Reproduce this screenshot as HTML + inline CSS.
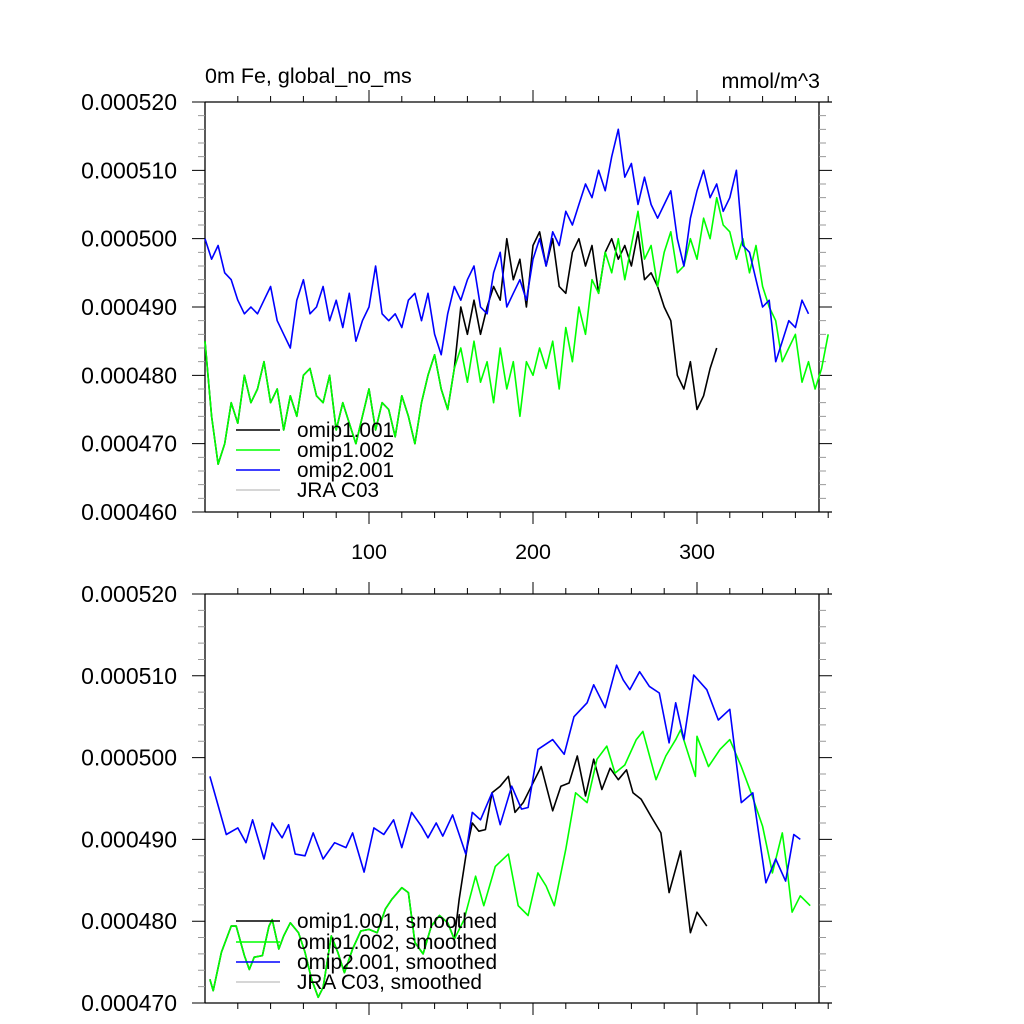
<!DOCTYPE html>
<html><head><meta charset="utf-8"><style>
html,body{margin:0;padding:0;background:#fff;}
svg{display:block;font-family:"Liberation Sans",sans-serif;}
</style></head><body>
<svg id="c" width="1024" height="1024" viewBox="0 0 1024 1024"></svg>
<script>
// ---- data (values in 1e-6 mmol/m^3) ----
const topStep = 4;
const topBlue = [500,497,499,495,494,491,489,490,489,491,493,488,486,484,491,494,489,490,493,488,491,487,492,485,488,490,496,489,488,489,487,491,492,488,492,486,483,489,493,491,494,496,490,489,495,498,490,492,494,491,497,500,496,501,499,504,502,505,508,506,510,507,512,516,509,511,505,509,505,503,505,507,500,496,503,507,510,506,508,504,506,510,499,498,494,490,491,482,485,488,487,491,489];
const topGreen = [485,474,467,470,476,473,480,476,478,482,476,478,472,477,474,480,481,477,476,480,472,476,473,470,474,478,472,476,475,471,477,474,470,476,480,483,478,475,481,484,479,485,479,482,476,484,478,482,474,482,480,484,481,485,478,487,482,490,486,494,492,498,495,500,494,499,504,497,499,493,498,501,495,496,500,497,503,500,506,502,501,497,500,495,499,493,490,488,482,484,486,479,482,478,481,486];
const topBlack = [485,474,467,470,476,473,480,476,478,482,476,478,472,477,474,480,481,477,476,480,472,476,473,470,474,478,472,476,475,471,477,474,470,476,480,483,478,475,481,490,486,491,486,490,493,491,500,494,497,490,499,501,496,500,493,492,498,500,496,499,492,498,500,497,499,496,501,494,495,493,490,488,480,478,482,475,477,481,484];
const botBlueX = [3,13,20,25,29,36,41,47,51,55,61,66,72,79,86,90,97,103,109,115,120,126,132,136,141,145,151,159,163,168,175,180,187,193,197,203,212,219,225,233,237,244,251,255,259,265,271,277,283,287,292,298,306,313,320,327,334,342,348,354,359,363];
const botBlue = [497.7,490.6,491.4,489.6,492.4,487.6,492,490.2,491.8,488.2,488,490.8,487.6,489.6,489,490.8,486,491.4,490.6,492.4,489,493.3,491.6,490.2,492,490.4,493,488.2,493.3,492.4,495.7,491.8,496.5,493.7,493.9,501,502.2,500.4,505,506.7,508.9,506.1,511.3,509.5,508.3,510.5,508.7,507.9,501.8,506.7,502.2,510.1,508.3,504.6,505.9,494.5,495.7,484.7,487.6,484.9,490.6,490];
const botGreenX = [3,5,10,16,19,24,27,30,35,39,41,45,48,52,57,61,65,69,72,77,81,85,90,95,100,105,110,114,120,124,128,133,138,143,148,152,158,165,170,177,185,191,197,203,208,213,220,226,233,239,245,250,256,263,267,275,281,287,290,299,300,307,314,320,327,333,340,346,352,355,358,363,369];
const botGreen = [472.9,471.5,476.2,479.4,479.4,475.8,474.1,475.6,475.8,479.4,480.2,476.6,478.2,479.8,478.6,476.2,472.9,470.7,471.9,478.2,476.2,473.7,476.6,478.8,479,478.6,481.5,482.7,484.1,483.5,477.4,476,479.4,480.7,479.8,477.8,480.2,485.5,481.9,486.7,488.2,481.9,480.7,485.9,484.3,481.9,488.8,495.7,494.5,499.8,501.4,498.1,499.1,502.2,503.2,497.3,500.2,502.2,503.4,497.7,502.6,498.9,501,502.2,498.9,495.7,491.6,485.9,490.8,486.3,481.1,483.1,481.9];
const botBlackX = [3,5,10,16,19,24,27,30,35,39,41,45,48,52,57,61,65,69,72,77,81,85,90,95,100,105,110,114,120,124,128,133,138,143,148,152,155,160,163,167,171,175,180,185,189,194,199,205,212,217,222,227,232,237,242,247,252,257,261,266,272,278,283,290,296,300,306];
const botBlack = [472.9,471.5,476.2,479.4,479.4,475.8,474.1,475.6,475.8,479.4,480.2,476.6,478.2,479.8,478.6,476.2,472.9,470.7,471.9,478.2,476.2,473.7,476.6,478.8,479,478.6,481.5,482.7,484.1,483.5,477.4,476,479.4,480.7,479.8,477.8,482.7,489.2,492,491,491.2,495.7,496.5,497.7,493.3,494.5,496.5,498.9,493.5,496.5,496.9,500.2,495.3,499.8,496.1,498.7,497.3,498.5,495.7,494.9,492.8,490.8,483.5,488.6,478.6,481.1,479.4];
const topYTicks = ["0.000460","0.000470","0.000480","0.000490","0.000500","0.000510","0.000520"];
const botYTicks = ["0.000470","0.000480","0.000490","0.000500","0.000510","0.000520"];
const xTickLabels = ["100","200","300"];

const NS="http://www.w3.org/2000/svg";
const svg=document.getElementById('c');
function mk(tag,attrs,parent){const e=document.createElementNS(NS,tag);for(const k in attrs)e.setAttribute(k,attrs[k]);(parent||svg).appendChild(e);return e;}
const X0=205,XR=832,XMAX=(XR-X0)/1.64;
function sx(u){return X0+u*1.64;}

function panel(name,top,bottom,vmin,vmax,yLabels,showXLabels){
  const g=mk('g',{});
  
  
  const sy=v=>bottom-(v-vmin)/(vmax-vmin)*(bottom-top);
  const fr=mk('path',{d:`M${X0} ${top}H${XR}M${X0} ${bottom}H${XR}M${X0} ${top}V${bottom}M819 ${top}V${bottom}`,stroke:'#000','stroke-width':1.3,fill:'none'},g);
  
  
  for(let u=20;u<XMAX;u+=20){
    const major=u%100===0,L=major?12:6,x=sx(u);
    const t=mk('path',{d:`M${x} ${top}V${top-L}M${x} ${bottom}V${bottom+L}`,stroke:'#000','stroke-width':1},g);
    
    
  }
  if(showXLabels){
    xTickLabels.forEach(s=>{
      const t=mk('text',{x:sx(+s),y:bottom+47,'text-anchor':'middle','font-size':21.5},g);
      
      
      t.textContent=s;
    });
  }
  for(let v=vmin;v<=vmax+0.001;v+=2){
    const major=Math.round(v)%10===0,L=major?13:7,y=sy(v);
    const t=mk('path',{d:`M${X0} ${y}H${X0-L}M819 ${y}H${819+L}`,stroke:major?'#000':'#999','stroke-width':1},g);
    
    
  }
  yLabels.forEach(s=>{
    const v=parseFloat(s)*1e6;
    const t=mk('text',{x:177,y:sy(v)+8,'text-anchor':'end','font-size':23},g);
    
    
    t.textContent=s;
  });
  return {g,sy};
}
function line(g,xs,vals,sy,color,name){
  const d=vals.map((v,i)=>(i?'L':'M')+sx(xs[i]).toFixed(1)+' '+sy(v).toFixed(1)).join('');
  const p=mk('path',{d,stroke:color,'stroke-width':1.6,fill:'none','stroke-linejoin':'round'},g);
  
  
}
function legend(g,entries,ys){
  entries.forEach((e,i)=>{
    const l=mk('line',{x1:236,x2:280,y1:ys[i],y2:ys[i],stroke:e[1],'stroke-width':1.6},g);
    
    
    const t=mk('text',{x:297,y:ys[i]+7,'font-size':20.8},g);
    
    
    t.textContent=e[0];
  });
}
const P1=panel('top-panel',102,512,460,520,topYTicks,true);
const idx=a=>a.map((_,i)=>i*topStep);
line(P1.g,idx(topBlack),topBlack,P1.sy,'#000','series-omip1-001');
line(P1.g,idx(topGreen),topGreen,P1.sy,'#00ff00','series-omip1-002');
line(P1.g,idx(topBlue),topBlue,P1.sy,'#0000ff','series-omip2-001');
legend(P1.g,[['omip1.001','#000'],['omip1.002','#00ff00'],['omip2.001','#0000ff'],['JRA C03','#c8c8c8']],[430,450,470,490]);
const P2=panel('bottom-panel',594,1003,470,520,botYTicks,false);
line(P2.g,botBlackX,botBlack,P2.sy,'#000','series-omip1-001-smoothed');
line(P2.g,botGreenX,botGreen,P2.sy,'#00ff00','series-omip1-002-smoothed');
line(P2.g,botBlueX,botBlue,P2.sy,'#0000ff','series-omip2-001-smoothed');
legend(P2.g,[['omip1.001, smoothed','#000'],['omip1.002, smoothed','#00ff00'],['omip2.001, smoothed','#0000ff'],['JRA C03, smoothed','#c8c8c8']],[921,942,962,982]);
let t=mk('text',{x:205,y:83,'font-size':21.5});


t.textContent='0m Fe, global_no_ms';
t=mk('text',{x:820,y:88,'font-size':21.5,'text-anchor':'end'});


t.textContent='mmol/m^3';
</script>
</body></html>
